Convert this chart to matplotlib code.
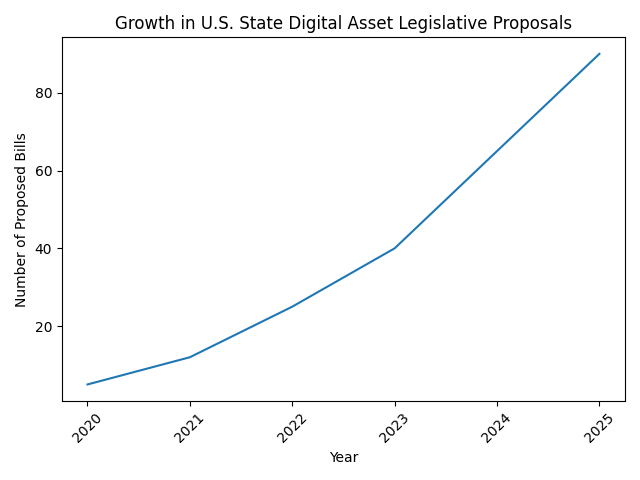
import matplotlib
matplotlib.use("Agg")
import matplotlib.pyplot as plt

years = [2020, 2021, 2022, 2023, 2024, 2025]
bills = [5, 12, 25, 40, 65, 90]

fig, ax = plt.subplots(figsize=(6.4, 4.8), dpi=100)
ax.plot(years, bills)
ax.set_title("Growth in U.S. State Digital Asset Legislative Proposals")
ax.set_xlabel("Year")
ax.set_ylabel("Number of Proposed Bills")
ax.set_xticks(years)
plt.xticks(rotation=45)
fig.tight_layout()
fig.savefig("out.png")
